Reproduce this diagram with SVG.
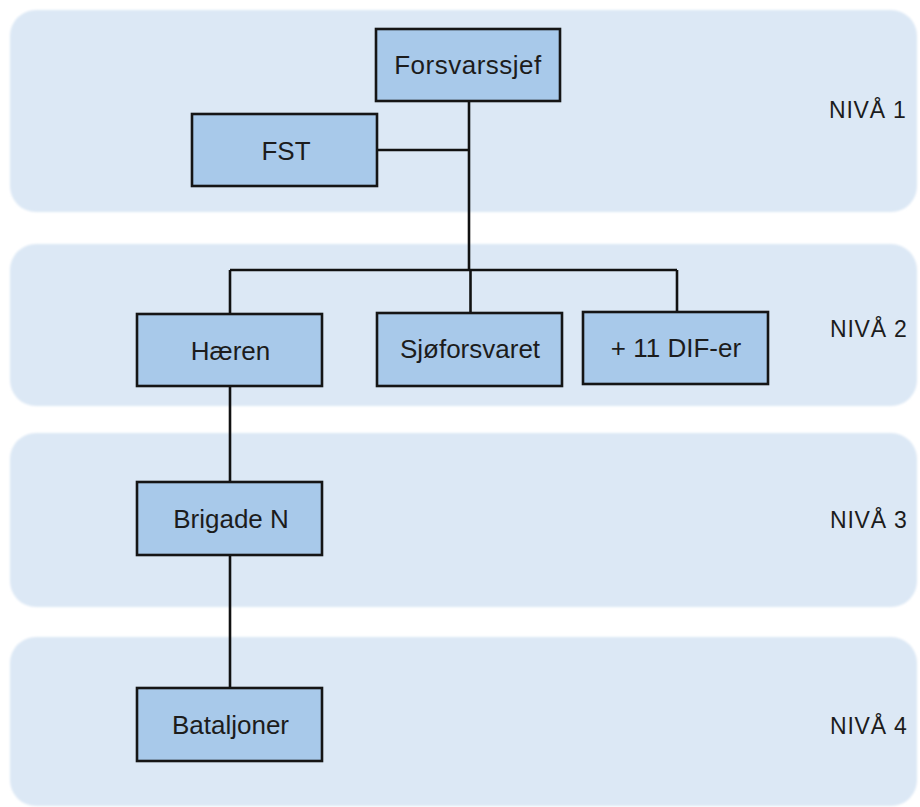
<svg xmlns="http://www.w3.org/2000/svg" width="920" height="807" viewBox="0 0 920 807">
<style>
.band{fill:#dce8f5;filter:url(#soft)}
.node rect{fill:#a8c9ea;stroke:#151515;stroke-width:2.6}
.node text{font-family:"Liberation Sans",Arial,sans-serif;font-size:26px;fill:#1c1c1c;text-anchor:middle}
.lvl{font-family:"Liberation Sans",Arial,sans-serif;font-size:23px;fill:#1c1c1c;letter-spacing:0.8px}
#connectors path{fill:none;stroke:#111;stroke-width:2.6}
</style>
<defs>
<filter id="soft" x="-5%" y="-10%" width="110%" height="120%"><feGaussianBlur stdDeviation="1.2"/></filter>
</defs>
<rect width="920" height="807" fill="#ffffff"/>
<g id="bands">
<rect class="band" x="10" y="10" width="907" height="202" rx="26"/>
<rect class="band" x="10" y="244" width="907" height="162" rx="26"/>
<rect class="band" x="10" y="433" width="907" height="174" rx="26"/>
<rect class="band" x="10" y="637" width="907" height="169" rx="26"/>
</g>
<g id="levels">
<text class="lvl" x="829" y="118">NIVÅ 1</text>
<text class="lvl" x="830" y="337">NIVÅ 2</text>
<text class="lvl" x="830" y="528">NIVÅ 3</text>
<text class="lvl" x="830" y="734">NIVÅ 4</text>
</g>
<g id="connectors">
<path d="M469 100 V270"/>
<path d="M377 150 H469"/>
<path d="M230 270 H677"/>
<path d="M230 270 V314"/>
<path d="M470.5 270 V313"/>
<path d="M677 270 V312"/>
<path d="M230 386 V482"/>
<path d="M230 555 V688"/>
</g>
<g id="forsvarssjef" class="node"><rect x="376" y="29" width="184" height="72"/><text x="468" y="74" letter-spacing="0.5">Forsvarssjef</text></g>
<g id="fst" class="node"><rect x="192" y="114" width="185" height="72"/><text x="286" y="160">FST</text></g>
<g id="haeren" class="node"><rect x="137" y="314" width="185" height="72"/><text x="230.5" y="360">Hæren</text></g>
<g id="sjoforsvaret" class="node"><rect x="377" y="313" width="185" height="73"/><text x="470" y="358">Sjøforsvaret</text></g>
<g id="dif" class="node"><rect x="583" y="312" width="185" height="72"/><text x="676" y="357">+ 11 DIF-er</text></g>
<g id="brigade" class="node"><rect x="137" y="482" width="185" height="73"/><text x="231" y="528">Brigade N</text></g>
<g id="bataljoner" class="node"><rect x="137" y="688" width="185" height="73"/><text x="230.5" y="734">Bataljoner</text></g>
</svg>
